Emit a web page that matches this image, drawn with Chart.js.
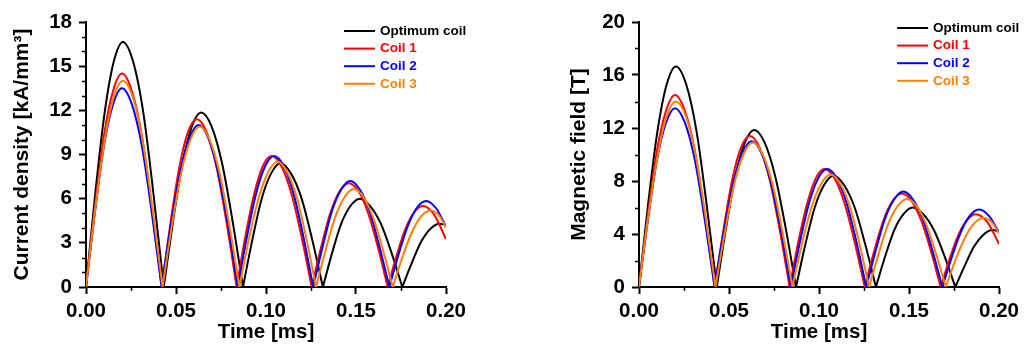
<!DOCTYPE html>
<html>
<head>
<meta charset="utf-8">
<title>Current density and magnetic field</title>
<script src="https://cdn.jsdelivr.net/npm/chart.js@4.4.0/dist/chart.umd.min.js"></script>
<style>
    body { margin: 0; background: #fff; }
    #wrap { position: relative; width: 1024px; height: 345px; }
    .panel { position: absolute; top: 0; width: 512px; height: 345px; }
</style>
</head>
<body>
<div id="wrap">
    <div class="panel" style="left:0"><canvas id="densityChart" width="512" height="345"></canvas></div>
    <div class="panel" style="left:512px"><canvas id="fieldChart" width="512" height="345"></canvas></div>
</div>
<script>
// Series, one sub-array per arch (time in ms)
const seriesNames = ['Optimum coil', 'Coil 1', 'Coil 2', 'Coil 3'];
const seriesColors = ['#000000', '#ff0000', '#0000ff', '#ff8000'];

const optimumTime = [
    [0, 0.0051, 0.0103, 0.0154, 0.0205, 0.0262, 0.0319, 0.0375, 0.0432],
    [0.0432, 0.0484, 0.0536, 0.0588, 0.0640, 0.0698, 0.0756, 0.0814, 0.0872],
    [0.0872, 0.0924, 0.0976, 0.1028, 0.1080, 0.1139, 0.1198, 0.1257, 0.1316],
    [0.1316, 0.1367, 0.1418, 0.1469, 0.1520, 0.1579, 0.1638, 0.1698, 0.1757],
    [0.1757, 0.1809, 0.1861, 0.1913, 0.1965, 0.2000]
];
const optimumValue = [
    [0, 6.3, 11.8, 15.3, 16.65, 15.3, 11.8, 6.3, 0],
    [0, 4.5, 8.4, 10.9, 11.85, 10.9, 8.4, 4.5, 0],
    [0, 3.2, 6.0, 7.7, 8.4, 7.7, 6.0, 3.2, 0],
    [0, 2.3, 4.3, 5.5, 6.0, 5.5, 4.3, 2.3, 0],
    [0, 1.6, 3.05, 3.95, 4.3, 4.2]
];

const coil1Time = [
    [0, 0.0050, 0.0100, 0.0150, 0.0200, 0.0255, 0.0310, 0.0365, 0.0420],
    [0.0420, 0.0469, 0.0518, 0.0566, 0.0615, 0.0671, 0.0726, 0.0782, 0.0837],
    [0.0837, 0.0885, 0.0934, 0.0982, 0.1030, 0.1086, 0.1142, 0.1198, 0.1254],
    [0.1254, 0.1306, 0.1357, 0.1409, 0.1460, 0.1514, 0.1568, 0.1622, 0.1676],
    [0.1676, 0.1725, 0.1773, 0.1822, 0.1870, 0.1935, 0.2000]
];
const coil1Value = [
    [0, 5.5, 10.3, 13.3, 14.5, 13.3, 10.3, 5.5, 0],
    [0, 4.3, 8.1, 10.5, 11.4, 10.5, 8.1, 4.3, 0],
    [0, 3.4, 6.3, 8.2, 8.9, 8.2, 6.3, 3.4, 0],
    [0, 2.7, 5.0, 6.5, 7.05, 6.5, 5.0, 2.7, 0],
    [0, 2.1, 3.9, 5.05, 5.5, 4.9, 3.25]
];

const coil2Time = [
    [0, 0.0050, 0.0100, 0.0150, 0.0200, 0.0255, 0.0310, 0.0365, 0.0420],
    [0.0420, 0.0471, 0.0523, 0.0574, 0.0625, 0.0680, 0.0734, 0.0789, 0.0843],
    [0.0843, 0.0894, 0.0944, 0.0995, 0.1045, 0.1099, 0.1154, 0.1208, 0.1262],
    [0.1262, 0.1314, 0.1365, 0.1417, 0.1468, 0.1522, 0.1577, 0.1631, 0.1685],
    [0.1685, 0.1736, 0.1788, 0.1839, 0.1890, 0.1945, 0.2000]
];
const coil2Value = [
    [0, 5.1, 9.6, 12.4, 13.5, 12.4, 9.6, 5.1, 0],
    [0, 4.2, 7.8, 10.1, 11.0, 10.1, 7.8, 4.2, 0],
    [0, 3.4, 6.3, 8.2, 8.9, 8.2, 6.3, 3.4, 0],
    [0, 2.7, 5.1, 6.6, 7.2, 6.6, 5.1, 2.7, 0],
    [0, 2.2, 4.15, 5.4, 5.85, 5.35, 4.1]
];

const coil3Time = [
    [0, 0.0051, 0.0103, 0.0154, 0.0205, 0.0260, 0.0315, 0.0370, 0.0425],
    [0.0425, 0.0477, 0.0529, 0.0580, 0.0632, 0.0687, 0.0742, 0.0797, 0.0852],
    [0.0852, 0.0905, 0.0959, 0.1012, 0.1065, 0.1118, 0.1172, 0.1225, 0.1278],
    [0.1278, 0.1331, 0.1383, 0.1436, 0.1488, 0.1542, 0.1596, 0.1650, 0.1704],
    [0.1704, 0.1757, 0.1810, 0.1862, 0.1915, 0.1958, 0.2000]
];
const coil3Value = [
    [0, 5.3, 9.9, 12.9, 14.0, 12.9, 9.9, 5.3, 0],
    [0, 4.15, 7.75, 10.0, 10.9, 10.0, 7.75, 4.15, 0],
    [0, 3.25, 6.05, 7.8, 8.5, 7.8, 6.05, 3.25, 0],
    [0, 2.5, 4.7, 6.1, 6.65, 6.1, 4.7, 2.5, 0],
    [0, 2.0, 3.7, 4.8, 5.2, 4.9, 4.05]
];

// the magnetic field panel reads the same numbers as the current density panel
const seriesTimes = [optimumTime, coil1Time, coil2Time, coil3Time];
const seriesValues = [optimumValue, coil1Value, coil2Value, coil3Value];

// Axis ticks
const timeTicks = [0, 0.05, 0.10, 0.15, 0.20];
const timeMinorTicks = [0.025, 0.075, 0.125, 0.175];
const densityTicks = [0, 3, 6, 9, 12, 15, 18];
const densityMinorTicks = [1, 2, 4, 5, 7, 8, 10, 11, 13, 14, 16, 17];
const fieldTicks = [0, 4, 8, 12, 16, 20];
const fieldMinorTicks = [2, 6, 10, 14, 18];

const FONT = "'Liberation Sans', Arial, sans-serif";
Chart.defaults.font.family = FONT;
Chart.defaults.font.weight = 'bold';
Chart.defaults.color = '#000';

// join the arches into one point list, with a gap between arches so the cusps stay sharp
function buildPoints(times, values) {
    const pts = [];
    times.forEach((arch, i) => {
        if (i > 0) pts.push({ x: arch[0], y: null });
        arch.forEach((t, j) => pts.push({ x: t, y: values[i][j] }));
    });
    return pts;
}

function buildDatasets() {
    return seriesNames.map((name, i) => ({
        label: name,
        data: buildPoints(seriesTimes[i], seriesValues[i]),
        borderColor: seriesColors[i],
        borderWidth: 2,
        pointRadius: 0,
        fill: false,
        spanGaps: false,
        cubicInterpolationMode: 'monotone',
        order: seriesNames.length - i
    }));
}

// short outward ticks between the labelled ones
const minorTicksPlugin = {
    id: 'minorTicks',
    afterDraw(chart, args, opts) {
        const { ctx, chartArea, scales } = chart;
        ctx.save();
        ctx.strokeStyle = '#000';
        ctx.lineWidth = 1.5;
        ctx.beginPath();
        opts.x.forEach(v => {
            const px = Math.round(scales.x.getPixelForValue(v)) + 0.5;
            ctx.moveTo(px, chartArea.bottom);
            ctx.lineTo(px, chartArea.bottom + 4);
        });
        opts.y.forEach(v => {
            const py = Math.round(scales.y.getPixelForValue(v)) + 0.5;
            ctx.moveTo(chartArea.left, py);
            ctx.lineTo(chartArea.left - 4, py);
        });
        ctx.stroke();
        ctx.restore();
    }
};

// legend drawn inside the plot, text coloured like its line
const innerLegendPlugin = {
    id: 'innerLegend',
    afterDraw(chart, args, opts) {
        const { ctx, chartArea } = chart;
        const x0 = chartArea.right - 102;
        ctx.save();
        ctx.font = 'bold 13.5px ' + FONT;
        ctx.textBaseline = 'middle';
        ctx.textAlign = 'left';
        seriesNames.forEach((name, i) => {
            const y = opts.top + i * 17.6;
            ctx.strokeStyle = seriesColors[i];
            ctx.lineWidth = 2;
            ctx.beginPath();
            ctx.moveTo(x0, y);
            ctx.lineTo(x0 + 31, y);
            ctx.stroke();
            ctx.fillStyle = seriesColors[i];
            ctx.fillText(name, x0 + 36, y);
        });
        ctx.restore();
    }
};

function makeChart(canvasId, cfg) {
    return new Chart(document.getElementById(canvasId), {
        type: 'line',
        data: { datasets: buildDatasets() },
        plugins: [minorTicksPlugin, innerLegendPlugin],
        options: {
            responsive: false,
            animation: false,
            layout: { padding: { top: 22, right: cfg.rightPad, bottom: 0, left: 0 } },
            plugins: {
                legend: { display: false },
                tooltip: { enabled: false },
                minorTicks: { x: timeMinorTicks, y: cfg.minorTicks },
                innerLegend: { top: cfg.legendTop }
            },
            scales: {
                x: {
                    type: 'linear',
                    min: 0,
                    max: 0.2,
                    afterBuildTicks: scale => { scale.ticks = timeTicks.map(v => ({ value: v })); },
                    afterFit: scale => { scale.height = 58; },
                    grid: { drawOnChartArea: false, drawTicks: true, tickLength: 7, tickColor: '#000', tickWidth: 2 },
                    border: { display: true, color: '#000', width: 2 },
                    ticks: {
                        padding: 5,
                        font: { size: 20.5, weight: 'bold' },
                        maxRotation: 0,
                        callback: v => v.toFixed(2)
                    },
                    title: {
                        display: true,
                        text: 'Time [ms]',
                        font: { size: 20.5, weight: 'bold' },
                        padding: { top: 0, bottom: 0 }
                    }
                },
                y: {
                    min: 0,
                    max: cfg.yMax,
                    afterBuildTicks: scale => { scale.ticks = cfg.ticks.map(v => ({ value: v })); },
                    afterFit: scale => { scale.width = cfg.yWidth; },
                    grid: { drawOnChartArea: false, drawTicks: true, tickLength: 7, tickColor: '#000', tickWidth: 2 },
                    border: { display: true, color: '#000', width: 2 },
                    ticks: {
                        padding: 7,
                        font: { size: 20.5, weight: 'bold' }
                    },
                    title: {
                        display: true,
                        text: cfg.yTitle,
                        font: { size: 21, weight: 'bold' },
                        padding: { top: cfg.yTitlePad, bottom: 0 }
                    }
                }
            }
        }
    });
}

makeChart('densityChart', {
    yMax: 18,
    ticks: densityTicks,
    minorTicks: densityMinorTicks,
    yTitle: 'Current density [kA/mm³]',
    yWidth: 86,
    yTitlePad: 9.4,
    rightPad: 66,
    legendTop: 31
});

makeChart('fieldChart', {
    yMax: 20,
    ticks: fieldTicks,
    minorTicks: fieldMinorTicks,
    yTitle: 'Magnetic field [T]',
    yWidth: 127,
    yTitlePad: 54.4,
    rightPad: 24,
    legendTop: 28
});
</script>
</body>
</html>
